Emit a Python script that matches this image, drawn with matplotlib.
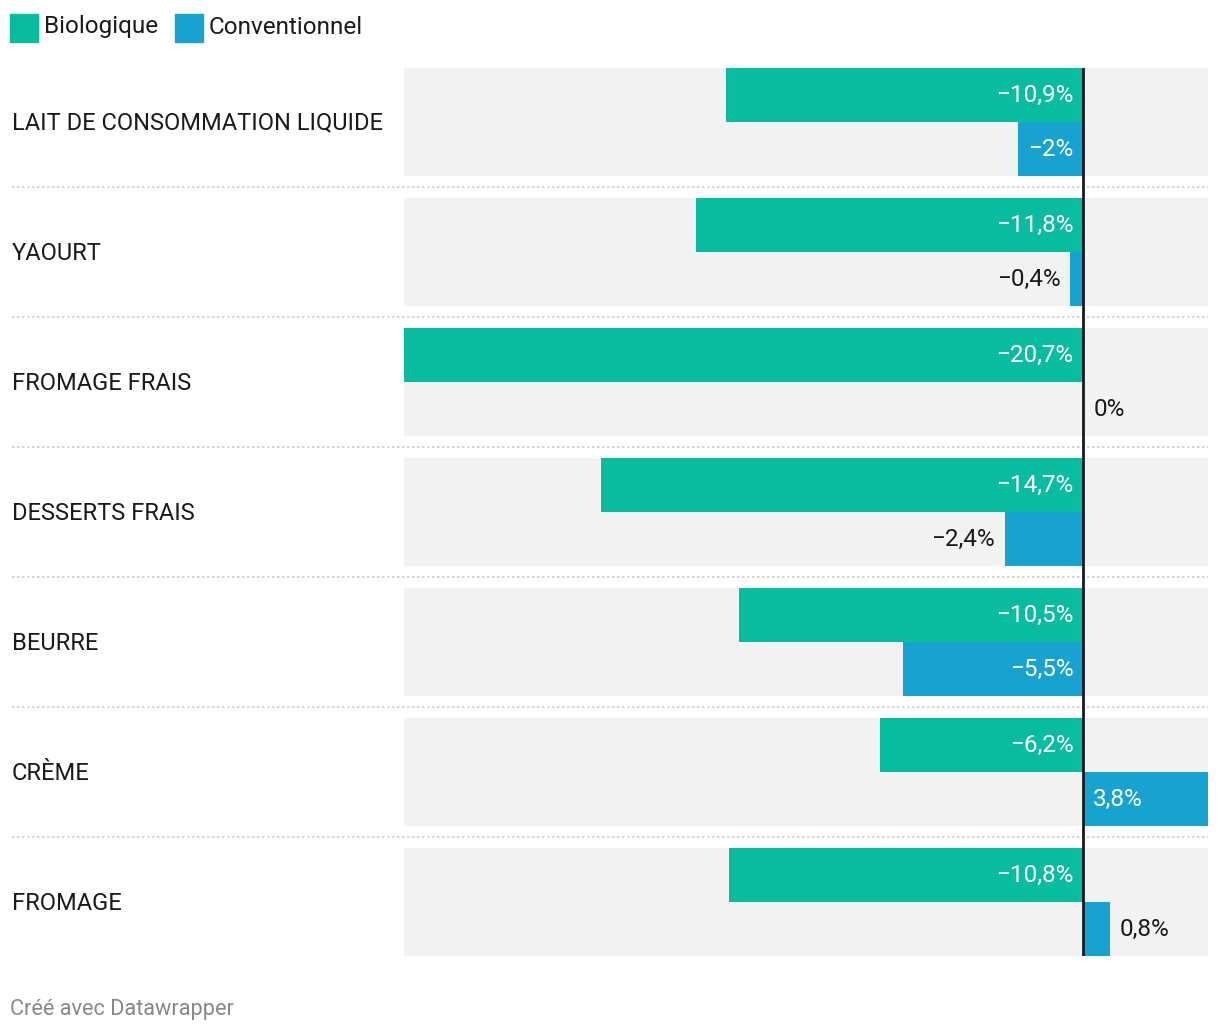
import numpy as np
import matplotlib.pyplot as plt
import matplotlib.transforms as mtransforms

# Données
categories = ["LAIT DE CONSOMMATION LIQUIDE", "YAOURT", "FROMAGE FRAIS",
              "DESSERTS FRAIS", "BEURRE", "CRÈME", "FROMAGE"]
bio = [-10.9, -11.8, -20.7, -14.7, -10.5, -6.2, -10.8]
conv = [-2.0, -0.4, 0.0, -2.4, -5.5, 3.8, 0.8]
series_names = ["Biologique", "Conventionnel"]

GREEN = "#0abc9f"
BLUE = "#18a2cf"
BG = "#f2f2f2"
DARK = "#1a1a1a"
VAL_FS = 17.5

plt.rcParams['font.family'] = ['Roboto', 'DejaVu Sans']

W, H = 1220, 1034
fig = plt.figure(figsize=(W / 100, H / 100), dpi=100)
ax = fig.add_axes([404 / W, 1 - 956 / H, (1208 - 404) / W, (956 - 68) / H])

n = len(categories)
y = np.arange(n)
band = 108 / 130
bh = band / 2

ax.set_xlim(min(bio), max(conv))
ax.set_ylim(n - 1 + band / 2, -band / 2)
ax.axis("off")

xmin, xmax = ax.get_xlim()
ax.barh(y, xmax - xmin, left=xmin, height=band, color=BG, zorder=0)
ax.barh(y - bh / 2, bio, height=bh, color=GREEN, zorder=2)
ax.barh(y + bh / 2, conv, height=bh, color=BLUE, zorder=2)
ax.axvline(0, color=DARK, lw=2, zorder=5)

# séparateurs pointillés
x0 = -(404 - 12) / (1208 - 404)
for i in range(n - 1):
    yy = i + 0.5
    ax.plot([x0, 1], [yy, yy], transform=ax.get_yaxis_transform(),
            color="#cccccc", lw=1.2, ls=(0, (1.5, 1.5)), clip_on=False, zorder=1)

fig.canvas.draw()
renderer = fig.canvas.get_renderer()
px_per_unit = ax.transData.transform((1, 0))[0] - ax.transData.transform((0, 0))[0]


def fmt(v):
    s = ("%g" % round(v, 1)).replace(".", ",").replace("-", "\u2212")
    return s + "%"


def label(v, yc):
    txt = fmt(v)
    t = ax.text(0, yc, txt, fontsize=VAL_FS)
    tw = t.get_window_extent(renderer).width
    t.remove()
    bar_px = abs(v) * px_per_unit
    pad = 10 / px_per_unit
    inside = bar_px >= tw + 20
    if v < 0:
        if inside:
            ax.text(-pad, yc, txt, ha="right", va="center", color="white", fontsize=VAL_FS, zorder=6)
        else:
            ax.text(v - pad, yc, txt, ha="right", va="center", color=DARK, fontsize=VAL_FS, zorder=6)
    else:
        if inside:
            ax.text(pad, yc, txt, ha="left", va="center", color="white", fontsize=VAL_FS, zorder=6)
        else:
            ax.text(v + pad, yc, txt, ha="left", va="center", color=DARK, fontsize=VAL_FS, zorder=6)


lab_tr = mtransforms.blended_transform_factory(fig.transFigure, ax.transData)
for i in range(n):
    label(bio[i], y[i] - bh / 2)
    label(conv[i], y[i] + bh / 2)
    ax.text(12 / W, y[i] + 0.01, categories[i], transform=lab_tr,
            ha="left", va="center", fontsize=17, color=DARK)

# légende
lx = 10
for name, col in zip(series_names, [GREEN, BLUE]):
    fig.patches.append(plt.Rectangle((lx / W, 1 - 42 / H), 28 / W, 28 / H,
                                     transform=fig.transFigure, color=col))
    t = fig.text((lx + 34) / W, 1 - 27 / H, name, ha="left", va="center", fontsize=17.5, color=DARK)
    tw = t.get_window_extent(renderer).width
    lx = lx + 34 + tw + 17

fig.text(10 / W, 1 - 1009 / H, "Créé avec Datawrapper", ha="left", va="center",
         fontsize=15.7, color="#888888")

plt.savefig("out.png", dpi=100, facecolor="white")
